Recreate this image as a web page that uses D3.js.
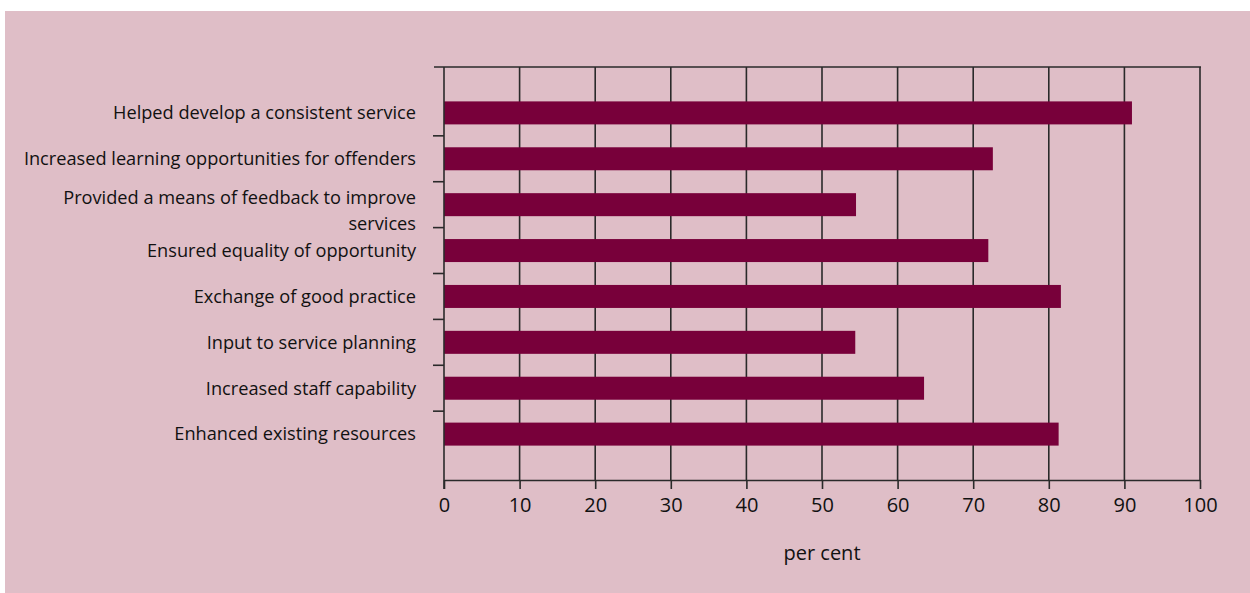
<!DOCTYPE html>
<html>
<head>
<meta charset="utf-8">
<script src="https://cdn.jsdelivr.net/npm/d3@7"></script>
<style>
  body { margin: 0; background: #fff; }
  text { font-family: "Open Sans", sans-serif; fill: #111; }
</style>
</head>
<body>
<script>
// data
const categories = [
  "Helped develop a consistent service",
  "Increased learning opportunities for offenders",
  "Provided a means of feedback to improve|services",
  "Ensured equality of opportunity",
  "Exchange of good practice",
  "Input to service planning",
  "Increased staff capability",
  "Enhanced existing resources"
];
const values = [91.0, 72.6, 54.5, 72.0, 81.6, 54.4, 63.5, 81.3];
const xTicks = [0, 10, 20, 30, 40, 50, 60, 70, 80, 90, 100];

const W = 1250, H = 593;
const plot = {left: 444, right: 1200, top: 67, bottom: 480};

const svg = d3.select("body").append("svg")
    .attr("width", W)
    .attr("height", H);

// pink panel
svg.append("rect")
    .attr("x", 5).attr("y", 11)
    .attr("width", W - 5).attr("height", H - 11)
    .attr("fill", "#dfbec7");

const x = d3.scaleLinear().domain([0, 100]).range([plot.left, plot.right]);
// one empty half-step above and below, so use point scale with padding
const y = d3.scalePoint().domain(categories).range([plot.top, plot.bottom]).padding(1);
const step = y.step();

// vertical grid lines
svg.selectAll(".grid")
    .data(xTicks.slice(1))
  .enter().append("line")
    .attr("x1", d => x(d)).attr("x2", d => x(d))
    .attr("y1", plot.top).attr("y2", plot.bottom)
    .attr("stroke", "#2a2a2a")
    .attr("stroke-width", 1.6);

// top border
svg.append("line")
    .attr("x1", 434).attr("x2", plot.right + 1)
    .attr("y1", plot.top).attr("y2", plot.top)
    .attr("stroke", "#2a2a2a").attr("stroke-width", 1.6);

// bars
svg.selectAll(".bar")
    .data(values)
  .enter().append("rect")
    .attr("class", "bar")
    .attr("x", x(0))
    .attr("y", (d, i) => y(categories[i]) - 11.5)
    .attr("width", d => x(d) - x(0))
    .attr("height", 23)
    .attr("fill", "#78003a");

// x axis
const xAxis = svg.append("g")
    .attr("transform", `translate(0,${plot.bottom})`)
    .call(d3.axisBottom(x).tickValues(xTicks).tickSize(9).tickPadding(9).tickSizeOuter(0));
xAxis.select(".domain").attr("stroke", "#2a2a2a").attr("stroke-width", 1.6);
xAxis.selectAll(".tick line").attr("stroke", "#2a2a2a").attr("stroke-width", 1.6);
xAxis.selectAll(".tick text")
    .style("font-family", "'Open Sans', sans-serif")
    .style("font-size", "20px")
    .attr("fill", "#111");

// left axis line
svg.append("line")
    .attr("x1", plot.left).attr("x2", plot.left)
    .attr("y1", plot.top).attr("y2", plot.bottom + 9)
    .attr("stroke", "#2a2a2a").attr("stroke-width", 1.6);

// category separator ticks
const sep = categories.slice(1).map(c => y(c) - step / 2);
svg.selectAll(".sep")
    .data(sep)
  .enter().append("line")
    .attr("x1", 433).attr("x2", plot.left)
    .attr("y1", d => d).attr("y2", d => d)
    .attr("stroke", "#2a2a2a").attr("stroke-width", 1.6);

// category labels
const labels = svg.selectAll(".lab")
    .data(categories)
  .enter().append("text")
    .attr("text-anchor", "end")
    .style("font-size", "18.2px")
    .attr("transform", d => `translate(416,${y(d)})`);
labels.each(function(d) {
  const parts = d.split("|");
  const t = d3.select(this);
  const offset = parts.length > 1 ? -7 : 0;
  parts.forEach((p, i) => {
    t.append("tspan")
      .attr("x", 0)
      .attr("y", offset + i * 26)
      .attr("dy", "0.35em")
      .text(p);
  });
});

// axis title
svg.append("text")
    .attr("x", 822).attr("y", 553)
    .attr("dy", "0.35em")
    .attr("text-anchor", "middle")
    .style("font-size", "20px")
    .text("per cent");
</script>
</body>
</html>
